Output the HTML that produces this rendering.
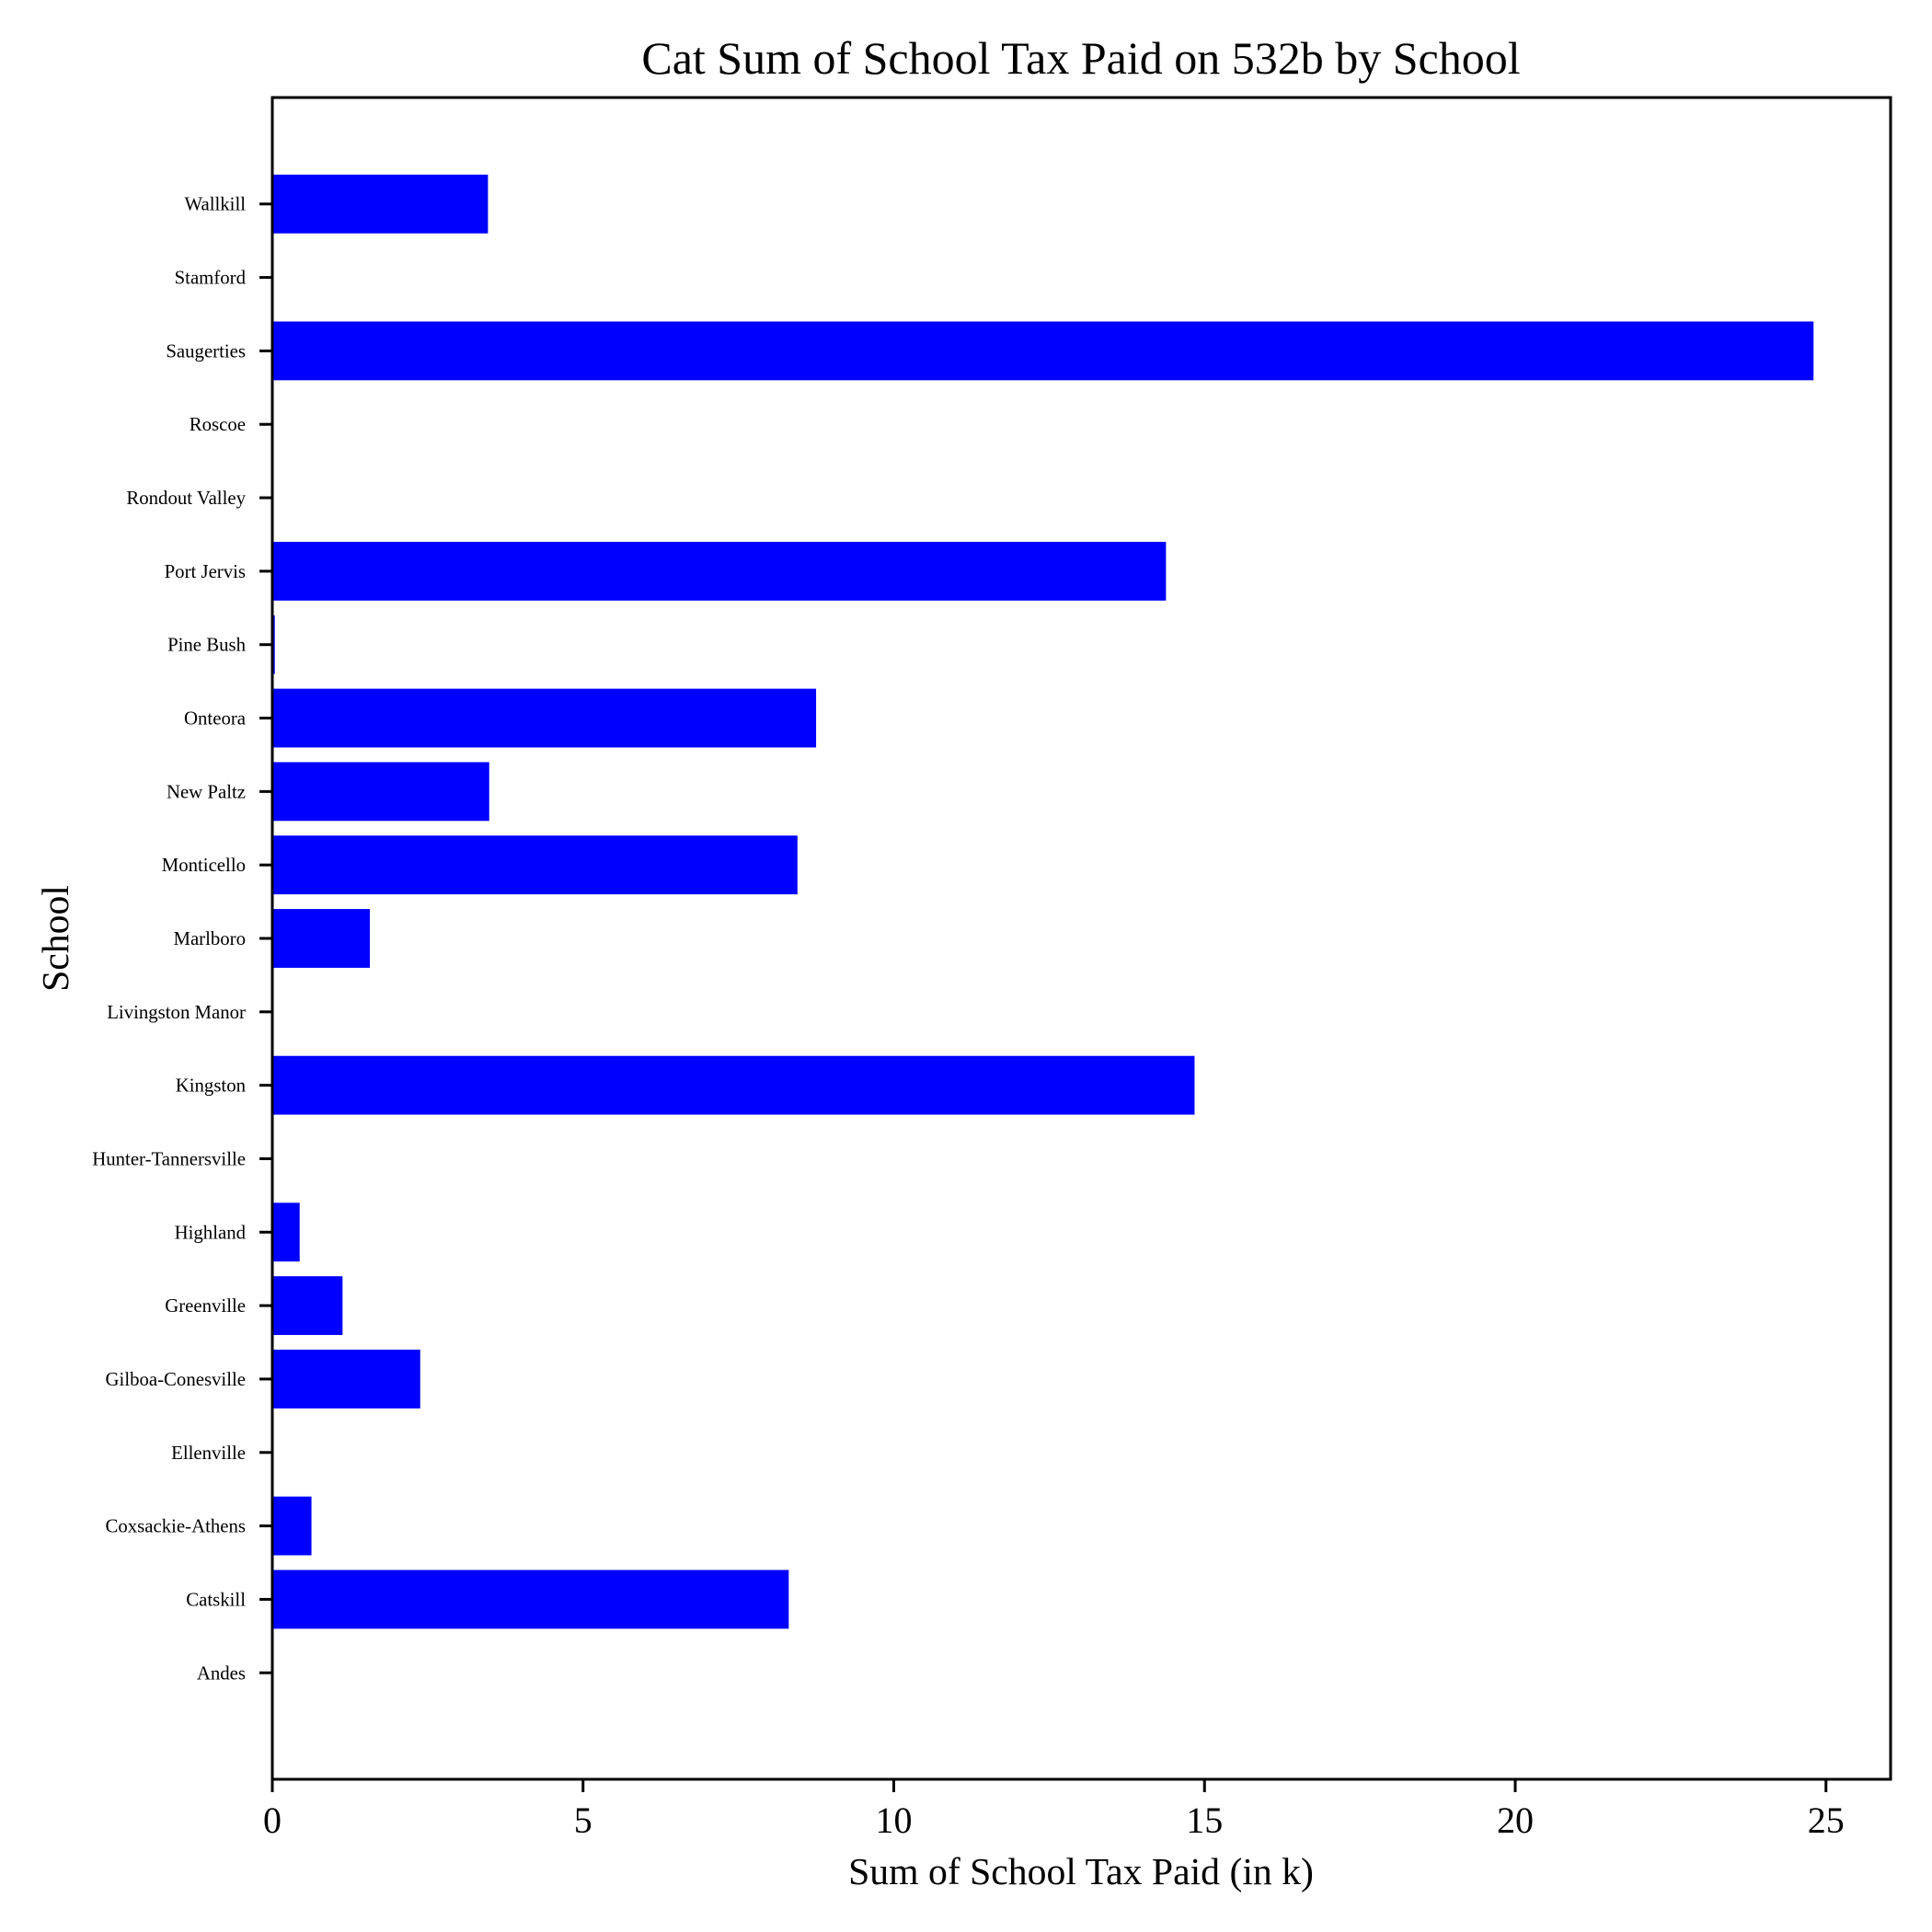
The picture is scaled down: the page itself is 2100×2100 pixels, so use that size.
<!DOCTYPE html>
<html><head><meta charset="utf-8"><style>body{margin:0;background:#fff}svg{display:block}text{font-family:"Liberation Serif",serif;fill:#000}</style></head>
<body>
<svg id="chart" width="2100" height="2100" viewBox="0 0 2100 2100" xmlns="http://www.w3.org/2000/svg">
<rect width="2100" height="2100" fill="#fff"/>
<text x="1175" y="80" font-size="50" text-anchor="middle">Cat Sum of School Tax Paid on 532b by School</text>
<text x="1175" y="2048" font-size="41.7" text-anchor="middle">Sum of School Tax Paid (in k)</text>
<text x="0" y="0" font-size="41.7" text-anchor="middle" transform="translate(74,1020) rotate(-90)">School</text>
<g id="bars"></g>
<g id="yticks"></g>
<g id="xticks"></g>
<rect x="296" y="106" width="1759" height="1828" fill="none" stroke="#000" stroke-width="3"/>
</svg>
<script>
const categories = ["Andes","Catskill","Coxsackie-Athens","Ellenville","Gilboa-Conesville","Greenville","Highland","Hunter-Tannersville","Kingston","Livingston Manor","Marlboro","Monticello","New Paltz","Onteora","Pine Bush","Port Jervis","Rondout Valley","Roscoe","Saugerties","Stamford","Wallkill"];
const values = [0,8.31,0.63,0,2.38,1.13,0.44,0,14.84,0,1.57,8.45,3.49,8.75,0.04,14.38,0,0,24.8,0,3.47];
const xTicks = [0,5,10,15,20,25];
const xTickLabels = ["0","5","10","15","20","25"];

const L=296,R=2055,T=106,B=1934;
const xMax = 26.04;
const yMin=-1.45, yMax=categories.length-1+1.45;
const xs = v => L + v/xMax*(R-L);
const ys = i => B - (i-yMin)/(yMax-yMin)*(B-T);
const bandH = (B-T)/(yMax-yMin)*0.8;
const NS="http://www.w3.org/2000/svg";
const bars=document.getElementById('bars'), yt=document.getElementById('yticks'), xt=document.getElementById('xticks');
categories.forEach((c,i)=>{
  const y=ys(i);
  if(values[i]>0){
    const r=document.createElementNS(NS,'rect');
    r.setAttribute('x',xs(0));r.setAttribute('y',y-bandH/2);
    r.setAttribute('width',xs(values[i])-xs(0));r.setAttribute('height',bandH);
    r.setAttribute('fill','#0000ff');
    
    
    bars.appendChild(r);
  }
  const tk=document.createElementNS(NS,'line');
  tk.setAttribute('x1',282);tk.setAttribute('x2',296);tk.setAttribute('y1',y);tk.setAttribute('y2',y);
  tk.setAttribute('stroke','#000');tk.setAttribute('stroke-width','3');
  
  
  yt.appendChild(tk);
  const t=document.createElementNS(NS,'text');
  t.setAttribute('x',267);t.setAttribute('y',y+7);t.setAttribute('font-size','20.8');t.setAttribute('text-anchor','end');
  t.textContent=c;
  
  
  yt.appendChild(t);
});
xTicks.forEach((v,i)=>{
  const x=xs(v);
  const tk=document.createElementNS(NS,'line');
  tk.setAttribute('x1',x);tk.setAttribute('x2',x);tk.setAttribute('y1',B);tk.setAttribute('y2',B+14);
  tk.setAttribute('stroke','#000');tk.setAttribute('stroke-width','3');
  
  
  xt.appendChild(tk);
  const t=document.createElementNS(NS,'text');
  t.setAttribute('x',x);t.setAttribute('y',1992);t.setAttribute('font-size','40');t.setAttribute('text-anchor','middle');
  t.textContent=xTickLabels[i];
  
  
  xt.appendChild(t);
});
</script>
</body></html>
